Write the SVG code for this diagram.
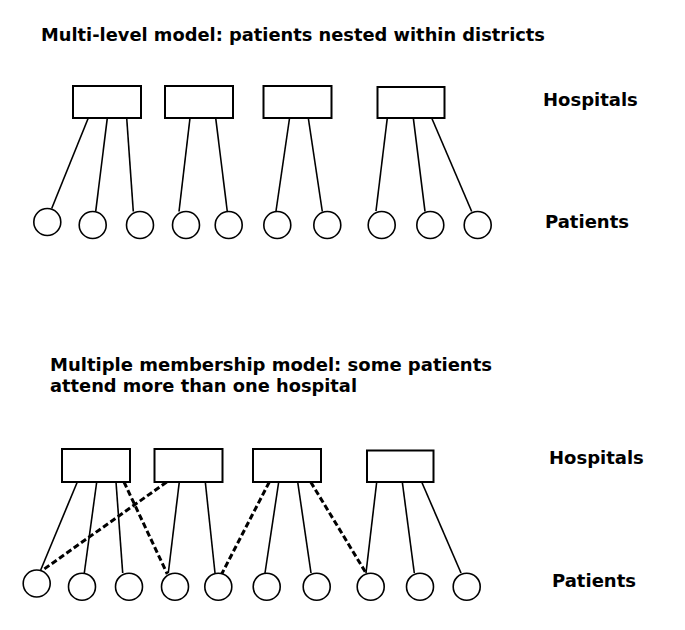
<svg xmlns="http://www.w3.org/2000/svg" width="685" height="630" viewBox="0 0 685 630">
<style>
.t{font-family:"DejaVu Sans","Liberation Sans",sans-serif;font-weight:bold;font-size:18px;fill:#000}
.b{fill:#fff;stroke:#000;stroke-width:2}
.c{fill:#fff;stroke:#000;stroke-width:1.6}
.l{stroke:#000;stroke-width:1.6;fill:none}
.d{stroke:#000;stroke-width:3;stroke-dasharray:6,3;fill:none}
</style>
<rect width="685" height="630" fill="#fff"/>
<text class="t" x="41" y="40.5" textLength="504" lengthAdjust="spacingAndGlyphs">Multi-level model: patients nested within districts</text>
<text class="t" x="543" y="105.5">Hospitals</text>
<text class="t" x="545" y="227.5">Patients</text>
<text class="t" x="50" y="371" textLength="442" lengthAdjust="spacingAndGlyphs">Multiple membership model: some patients</text>
<text class="t" x="50" y="391.5" textLength="307" lengthAdjust="spacingAndGlyphs">attend more than one hospital</text>
<text class="t" x="549" y="463.5">Hospitals</text>
<text class="t" x="552" y="587">Patients</text>
<g id="connectors">
<line class="l" x1="88.3" y1="118" x2="51.7" y2="208.5"/>
<line class="l" x1="107.3" y1="118" x2="95.7" y2="211.5"/>
<line class="l" x1="126.7" y1="118" x2="133.3" y2="211.5"/>
<line class="l" x1="190" y1="118" x2="179" y2="211.5"/>
<line class="l" x1="215.7" y1="118" x2="227.3" y2="211.5"/>
<line class="l" x1="290" y1="115" x2="276" y2="211"/>
<line class="l" x1="308.3" y1="118" x2="322.3" y2="211.5"/>
<line class="l" x1="387.3" y1="118" x2="376" y2="211"/>
<line class="l" x1="413.3" y1="118" x2="425" y2="211.5"/>
<line class="l" x1="431.7" y1="118" x2="471.7" y2="211.5"/>
<line class="l" x1="77.3" y1="482" x2="40.7" y2="570"/>
<line class="l" x1="96.7" y1="482" x2="84.3" y2="573"/>
<line class="l" x1="116" y1="482" x2="122.7" y2="573"/>
<line class="l" x1="179.3" y1="482" x2="168.3" y2="573"/>
<line class="l" x1="205.3" y1="482" x2="215" y2="573"/>
<line class="l" x1="279.3" y1="478" x2="265" y2="573"/>
<line class="l" x1="297.7" y1="482" x2="311" y2="573"/>
<line class="l" x1="376.7" y1="482" x2="366" y2="573"/>
<line class="l" x1="402.3" y1="482" x2="414.3" y2="573"/>
<line class="l" x1="421.7" y1="482" x2="461" y2="573"/>
<line class="d" x1="124" y1="482" x2="167.3" y2="574"/>
<line class="d" x1="166.7" y1="482" x2="40.7" y2="571.5"/>
<line class="d" x1="269.3" y1="482" x2="221.7" y2="574"/>
<line class="d" x1="310.7" y1="482" x2="366" y2="573"/>
</g>
<g id="h1"><rect class="b" x="73" y="86" width="68" height="32"/></g>
<g id="h2"><rect class="b" x="165" y="86" width="68" height="32"/></g>
<g id="h3"><rect class="b" x="263.5" y="86" width="68" height="32"/></g>
<g id="h4"><rect class="b" x="377.5" y="87" width="67" height="31"/></g>
<g id="p1"><circle class="c" cx="47.3" cy="222" r="13.5"/></g>
<g id="p2"><circle class="c" cx="92.7" cy="225" r="13.5"/></g>
<g id="p3"><circle class="c" cx="140" cy="225" r="13.5"/></g>
<g id="p4"><circle class="c" cx="186" cy="225" r="13.5"/></g>
<g id="p5"><circle class="c" cx="228.7" cy="225" r="13.5"/></g>
<g id="p6"><circle class="c" cx="277.3" cy="225" r="13.5"/></g>
<g id="p7"><circle class="c" cx="327.3" cy="225" r="13.5"/></g>
<g id="p8"><circle class="c" cx="381.7" cy="225" r="13.5"/></g>
<g id="p9"><circle class="c" cx="430.3" cy="225" r="13.5"/></g>
<g id="p10"><circle class="c" cx="477.7" cy="225" r="13.5"/></g>
<g id="mh1"><rect class="b" x="62" y="449" width="68" height="33"/></g>
<g id="mh2"><rect class="b" x="154.5" y="449" width="68" height="33"/></g>
<g id="mh3"><rect class="b" x="253" y="449" width="68" height="33"/></g>
<g id="mh4"><rect class="b" x="367" y="450.5" width="66.5" height="31.5"/></g>
<g id="mp1"><circle class="c" cx="36.7" cy="583.5" r="13.5"/></g>
<g id="mp2"><circle class="c" cx="82" cy="586.7" r="13.5"/></g>
<g id="mp3"><circle class="c" cx="129" cy="586.7" r="13.5"/></g>
<g id="mp4"><circle class="c" cx="175" cy="586.7" r="13.5"/></g>
<g id="mp5"><circle class="c" cx="218.3" cy="586.7" r="13.5"/></g>
<g id="mp6"><circle class="c" cx="266.7" cy="586.7" r="13.5"/></g>
<g id="mp7"><circle class="c" cx="316.7" cy="586.7" r="13.5"/></g>
<g id="mp8"><circle class="c" cx="370.7" cy="586.7" r="13.5"/></g>
<g id="mp9"><circle class="c" cx="420" cy="586.7" r="13.5"/></g>
<g id="mp10"><circle class="c" cx="466.7" cy="586.7" r="13.5"/></g>
</svg>
